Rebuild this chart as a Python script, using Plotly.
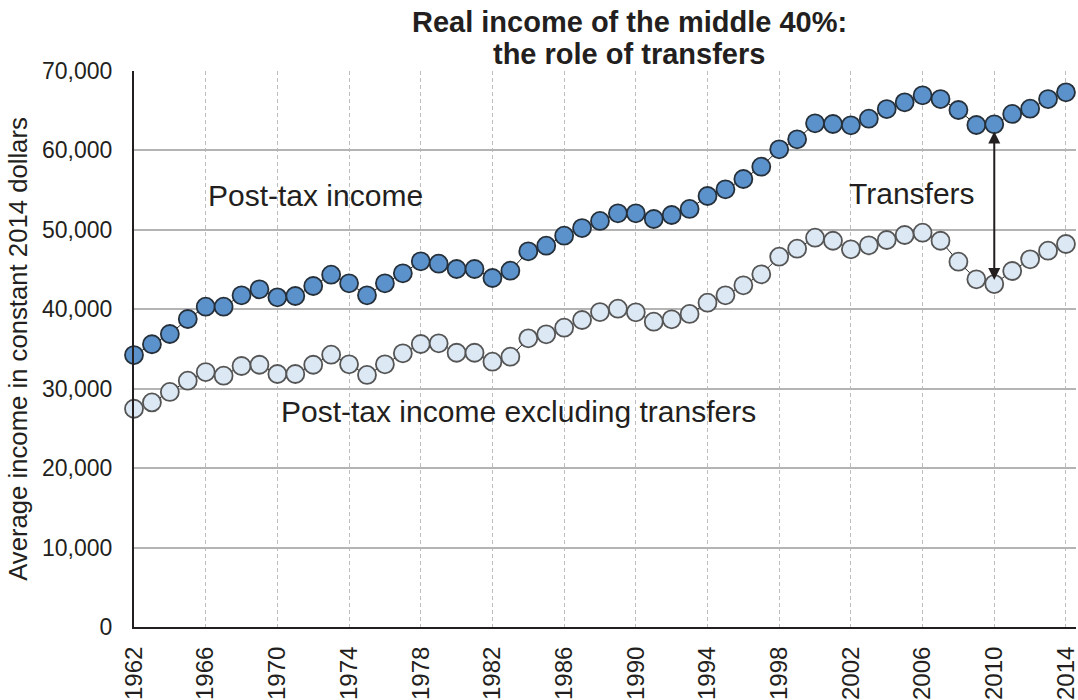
import plotly.graph_objects as go

years = list(range(1962, 2015))

post_tax = [34240, 35600, 36890, 38780, 40330, 40330, 41760, 42510, 41500, 41670,
            42930, 44360, 43270, 41760, 43270, 44530, 46040, 45740, 45070, 45070,
            43940, 44860, 47300, 48010, 49270, 50230, 51120, 52080, 52080, 51370,
            51870, 52630, 54260, 55100, 56400, 57950, 60140, 61400, 63410, 63330,
            63160, 64000, 65210, 66050, 66940, 66470, 65090, 63200, 63290, 64590,
            65260, 66470, 67310]

excl_transfers = [27480, 28280, 29590, 31010, 32100, 31640, 32860, 33020, 31850, 31850,
                  33020, 34280, 33070, 31730, 33070, 34460, 35630, 35720, 34530, 34530,
                  33400, 34030, 36340, 36850, 37680, 38650, 39650, 40080, 39620, 38440,
                  38740, 39410, 40830, 41760, 43020, 44400, 46620, 47630, 49010, 48630,
                  47550, 48050, 48720, 49350, 49640, 48630, 45990, 43770, 43180, 44820,
                  46290, 47380, 48220]

tick_years = list(range(1962, 2015, 4))
y_ticks = list(range(0, 70001, 10000))

FONT = "Liberation Sans, Arial, sans-serif"

fig = go.Figure()
fig.add_trace(go.Scatter(
    x=years, y=excl_transfers, mode="lines+markers",
    line=dict(color="#222222", width=1),
    marker=dict(size=18, color="#DCE8F4", line=dict(color="#555555", width=1.8)),
    cliponaxis=False, showlegend=False,
))
fig.add_trace(go.Scatter(
    x=years, y=post_tax, mode="lines+markers",
    line=dict(color="#222222", width=1),
    marker=dict(size=18, color="#5B92CC", line=dict(color="#26303a", width=1.8)),
    cliponaxis=False, showlegend=False,
))

annotations = [
    dict(text="<b>Real income of the middle 40%:</b>", x=0.5255, y=(627 - 22) / 556,
         xref="paper", yref="paper", showarrow=False, xanchor="center", yanchor="middle",
         font=dict(size=29, color="#231f20", family=FONT)),
    dict(text="<b>the role of transfers</b>", x=0.5255, y=(627 - 54) / 556,
         xref="paper", yref="paper", showarrow=False, xanchor="center", yanchor="middle",
         font=dict(size=29, color="#231f20", family=FONT)),
    dict(text="Post-tax income", x=1966, y=54300, xref="x", yref="y",
         showarrow=False, xanchor="left", yanchor="middle",
         font=dict(size=30, color="#231f20", family=FONT)),
    dict(text="Post-tax income excluding transfers", x=1970.1, y=27100, xref="x", yref="y",
         showarrow=False, xanchor="left", yanchor="middle",
         font=dict(size=30, color="#231f20", family=FONT)),
    dict(text="Transfers", x=2001.8, y=54600, xref="x", yref="y",
         showarrow=False, xanchor="left", yanchor="middle",
         font=dict(size=30, color="#231f20", family=FONT)),
    dict(text="", x=2010, y=43690, ax=2010, ay=62570, xref="x", yref="y",
         axref="x", ayref="y", showarrow=True, arrowhead=2, arrowside="end+start",
         arrowsize=1.2, arrowwidth=2, arrowcolor="#231f20", standoff=0, startstandoff=0),
]

fig.update_layout(
    width=1078, height=700,
    margin=dict(l=134, r=2, t=71, b=73, autoexpand=False),
    paper_bgcolor="white", plot_bgcolor="white",
    font=dict(family=FONT, color="#231f20"),
    annotations=annotations,
    showlegend=False,
)

fig.update_xaxes(
    range=[1962, 2014.56], tickmode="array", tickvals=tick_years,
    ticktext=[str(t) for t in tick_years], tickangle=-90,
    tickfont=dict(size=24, color="#231f20", family=FONT),
    showgrid=True, gridcolor="#BDBDBD", griddash="4px,3px", gridwidth=1,
    showline=True, linecolor="#231f20", linewidth=2,
    ticks="", ticklabelstandoff=8, ticklabeloverflow="allow", zeroline=False,
)
fig.update_yaxes(
    range=[0, 70000], tickmode="array", tickvals=y_ticks, tickformat=",",
    tickfont=dict(size=23, color="#231f20", family=FONT),
    showgrid=True, gridcolor="#B4B4B4", gridwidth=1.5,
    showline=True, linecolor="#231f20", linewidth=2,
    ticks="", ticklabelstandoff=15, zeroline=False,
    title=dict(text="Average income in constant 2014 dollars",
               font=dict(size=25.7, color="#231f20", family=FONT), standoff=7),
)

fig.write_html(
    "out.html",
    config={"displayModeBar": False},
    post_script="document.body.style.margin='0';document.body.style.padding='0';"
                "document.documentElement.style.overflow='hidden';",
)
